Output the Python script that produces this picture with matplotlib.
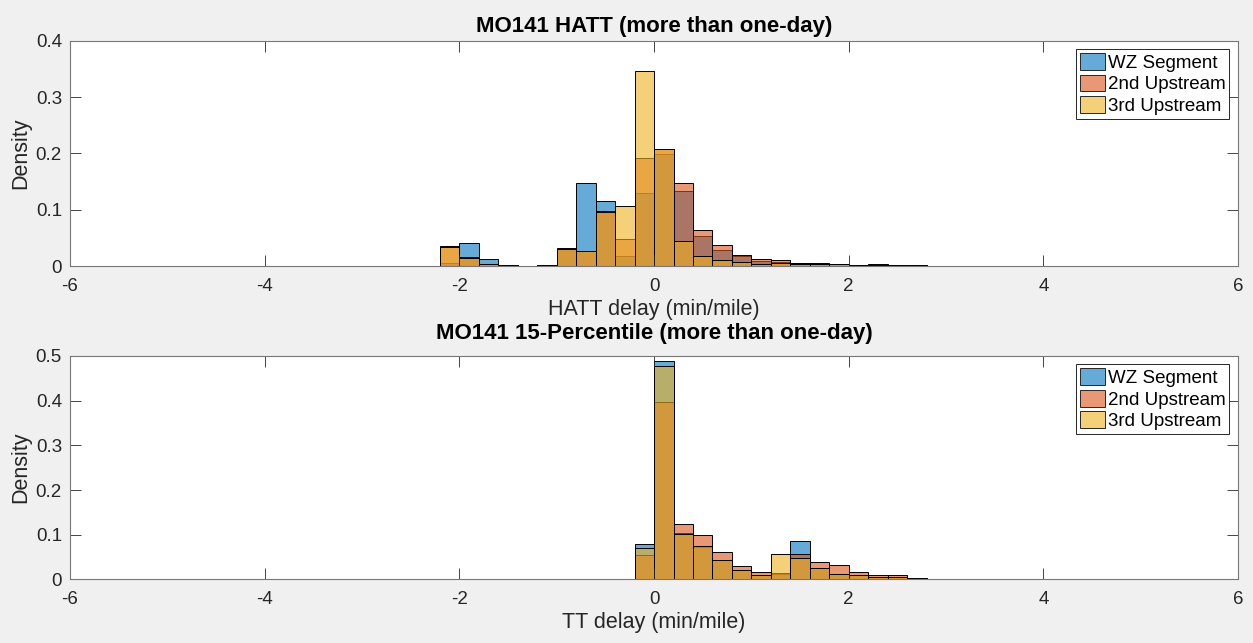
import numpy as np
import matplotlib
matplotlib.use("Agg")
import matplotlib.pyplot as plt
from matplotlib.patches import Patch
from matplotlib.ticker import FuncFormatter

plt.rcParams["font.family"] = ["Liberation Sans", "DejaVu Sans"]
plt.rcParams["axes.unicode_minus"] = False

series_names = ["WZ Segment", "2nd Upstream", "3rd Upstream"]
series_colors = [(0.0, 0.447, 0.741), (0.85, 0.325, 0.098), (0.929, 0.694, 0.125)]

# HATT delay histogram, bins of 0.2 from -2.2 to 2.8
hatt_edges = np.round(np.arange(-2.2, 2.81, 0.2), 1)
hatt_wz = [0.005, 0.040, 0.012, 0.002, 0.0, 0.001, 0.032, 0.148, 0.116, 0.017, 0.130, 0.199, 0.133,
           0.054, 0.028, 0.017, 0.009, 0.008, 0.005, 0.004, 0.004, 0.002, 0.002, 0.001, 0.001]
hatt_up2 = [0.035, 0.016, 0.003, 0.001, 0.0, 0.001, 0.031, 0.027, 0.097, 0.048, 0.192, 0.208, 0.147,
            0.064, 0.037, 0.019, 0.012, 0.010, 0.006, 0.005, 0.004, 0.001, 0.003, 0.001, 0.001]
hatt_up3 = [0.034, 0.015, 0.003, 0.001, 0.0, 0.001, 0.030, 0.026, 0.096, 0.106, 0.346, 0.207, 0.044,
            0.017, 0.010, 0.007, 0.004, 0.005, 0.004, 0.004, 0.004, 0.001, 0.001, 0.001, 0.001]

# 15-percentile TT delay histogram, bins of 0.2 from -0.2 to 3.2
tt_edges = np.round(np.arange(-0.2, 3.21, 0.2), 1)
tt_wz = [0.080, 0.489, 0.104, 0.072, 0.043, 0.021, 0.010, 0.013, 0.086, 0.025, 0.012, 0.010,
         0.005, 0.006, 0.003, 0.001, 0.001]
tt_up2 = [0.054, 0.397, 0.125, 0.100, 0.062, 0.030, 0.017, 0.014, 0.058, 0.040, 0.033, 0.017,
          0.011, 0.009, 0.004, 0.001, 0.001]
tt_up3 = [0.071, 0.478, 0.102, 0.074, 0.044, 0.022, 0.010, 0.056, 0.049, 0.026, 0.013, 0.009,
          0.005, 0.005, 0.002, 0.001, 0.0005]

axis_col = "#262626"


def draw_panel(ax, edges, series, title, xlabel, ymax, title_pad):
    for vals, c in zip(series, series_colors):
        ax.bar(edges[:-1], vals, width=np.diff(edges), align="edge",
               facecolor=(*c, 0.6), edgecolor="black", linewidth=0.7)

    ax.set_xlim(-6, 6)
    ax.set_ylim(0, ymax)
    ax.set_xticks(np.arange(-6, 7, 2))
    ax.set_yticks(np.arange(0, ymax + 0.001, 0.1))
    ax.yaxis.set_major_formatter(FuncFormatter(lambda v, _: f"{v:g}"))
    ax.tick_params(direction="in", length=8, width=0.6, top=True, right=True,
                   labelsize=13.5, colors=axis_col)
    ax.tick_params(axis="x", pad=8.5)
    ax.tick_params(axis="y", pad=5.8)
    for s in ax.spines.values():
        s.set_color("#777777")
        s.set_linewidth(0.8)

    ax.set_title(title, fontsize=16, fontweight="bold", pad=title_pad)
    ax.set_xlabel(xlabel, fontsize=15.5, color=axis_col, labelpad=3)
    ax.set_ylabel("Density", fontsize=15.5, color=axis_col, labelpad=3.5)

    handles = [Patch(facecolor=(*c, 0.6), edgecolor=axis_col, linewidth=0.7) for c in series_colors]
    leg = ax.legend(handles, series_names, loc="upper right", bbox_to_anchor=(0.9926, 0.962),
                    borderaxespad=0, fontsize=13.5, fancybox=False, framealpha=1,
                    edgecolor=axis_col, handlelength=1.35, handleheight=1.0,
                    handletextpad=0.15, labelspacing=0.15, borderpad=0.2)
    leg.get_frame().set_linewidth(0.7)


fig = plt.figure(figsize=(12.53, 6.43), dpi=100, facecolor="#f0f0f0")
ax1 = fig.add_axes([0.0559, 0.5863, 0.9322, 0.3504])
ax2 = fig.add_axes([0.0559, 0.0988, 0.9322, 0.3476])

draw_panel(ax1, hatt_edges, [hatt_wz, hatt_up2, hatt_up3],
           "MO141 HATT (more than one-day)", "HATT delay (min/mile)", 0.4, 6.5)
draw_panel(ax2, tt_edges, [tt_wz, tt_up2, tt_up3],
           "MO141 15-Percentile (more than one-day)", "TT delay (min/mile)", 0.5, 12)

fig.savefig("out.png", dpi=100, facecolor=fig.get_facecolor())
